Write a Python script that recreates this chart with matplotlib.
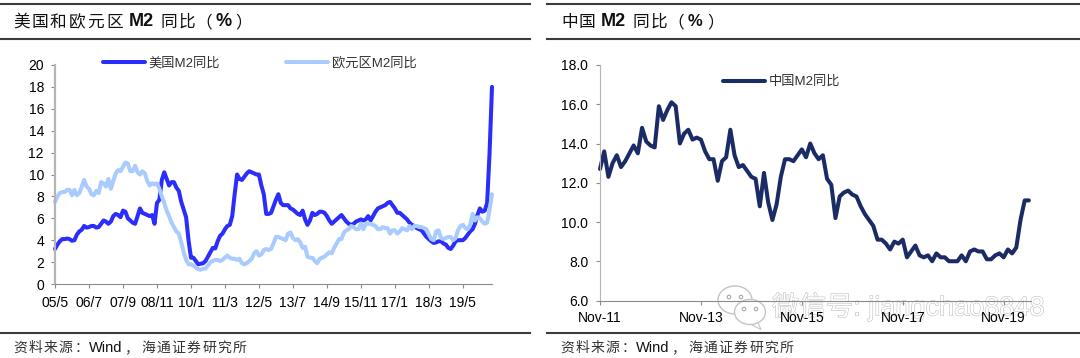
import matplotlib
matplotlib.use('Agg')
import numpy as np
import matplotlib.pyplot as plt
from matplotlib.patches import Ellipse, Polygon
from matplotlib.transforms import Affine2D
import matplotlib.patheffects as pe

plt.rcParams['font.family'] = ['Liberation Sans', 'Noto Sans CJK SC']

us_m2 = [3.2, 3.6, 3.9, 4.1, 4.1, 4.15, 4.1, 3.95, 4.0, 4.5, 4.8, 4.95, 5.3, 5.15, 5.2, 5.3, 5.3, 5.15, 5.2, 5.5,
         5.8, 5.7, 5.5, 5.7, 6.2, 6.4, 6.3, 6.1, 6.7, 6.6, 6.0, 5.8, 5.6, 5.5, 6.2, 6.9, 6.5, 6.4, 6.3, 6.2,
         6.3, 5.5, 7.4, 7.7, 9.5, 10.2, 9.6, 9.0, 9.3, 9.3, 8.8, 8.5, 7.5, 6.8, 6.1, 4.0, 2.4, 2.4, 2.1, 1.8,
         1.85, 1.9, 2.1, 2.5, 2.9, 3.3, 3.25, 3.9, 4.4, 4.6, 5.0, 5.3, 5.4, 6.2, 8.2, 10.0, 9.6, 9.5, 9.8, 10.1,
         10.3, 10.2, 10.1, 10.0, 10.0, 9.0, 8.2, 6.4, 6.4, 6.5, 7.1, 7.7, 8.2, 7.4, 7.2, 7.2, 7.2, 6.9, 6.8, 6.6,
         6.4, 6.3, 6.7, 5.9, 5.4, 5.8, 6.5, 6.3, 6.4, 6.6, 6.6, 6.5, 6.2, 5.8, 5.5, 5.7, 5.9, 6.1, 6.3, 6.0,
         5.7, 5.5, 5.4, 5.5, 5.7, 5.8, 5.9, 5.8, 5.9, 6.2, 5.8, 6.2, 6.6, 6.9, 7.0, 7.1, 7.2, 7.4, 7.5, 7.2,
         6.9, 6.5, 6.5, 6.3, 6.1, 5.9, 5.6, 5.4, 5.3, 5.1, 5.0, 4.9, 4.6, 4.3, 4.1, 3.9, 3.75, 3.8, 3.9, 3.9,
         3.7, 3.6, 3.3, 3.2, 3.5, 3.9, 4.0, 4.0, 4.0, 4.2, 4.5, 4.8, 5.0, 5.5, 6.3, 6.9, 6.6, 6.7, 7.4, 12.0,
         18.0]
eu_m2 = [7.5, 8.0, 8.3, 8.4, 8.4, 8.6, 8.6, 8.1, 8.6, 8.1, 8.3, 8.9, 9.5, 8.9, 8.7, 8.2, 8.1, 8.5, 8.3, 9.3,
         9.2, 8.9, 9.6, 8.7, 9.4, 10.1, 10.4, 10.3, 10.7, 11.1, 11.0, 10.3, 10.3, 10.8, 10.2, 10.0, 10.3, 10.1, 9.4, 9.0,
         9.2, 9.1, 9.2, 8.7, 8.0, 7.4, 6.7, 6.2, 5.6, 5.2, 4.8, 4.6, 3.8, 2.9, 2.2, 1.8, 1.8, 1.7, 1.5, 1.35,
         1.3, 1.4, 1.4, 1.7, 2.0, 2.1, 2.2, 2.2, 2.1, 2.2, 2.4, 2.6, 2.4, 2.3, 2.3, 2.2, 2.3, 1.9, 1.8, 1.9,
         2.1, 2.3, 2.8, 3.0, 2.6, 2.7, 3.1, 3.2, 3.1, 3.2, 3.7, 4.3, 4.3, 4.2, 4.1, 4.0, 4.6, 4.7, 4.2, 4.0,
         4.1, 3.8, 3.3, 3.4, 2.5, 2.4, 2.4, 2.1, 1.9, 2.3, 2.4, 2.5, 2.7, 2.9, 2.8, 3.3, 3.7, 4.1, 4.1, 4.7,
         4.9, 5.0, 5.3, 5.2, 5.0, 5.0, 5.5, 5.0, 5.5, 5.5, 5.5, 5.4, 5.3, 5.0, 5.0, 5.2, 5.1, 5.1, 4.6, 4.9,
         4.9, 4.6, 4.8, 5.1, 5.0, 4.9, 5.3, 5.0, 5.3, 5.3, 5.2, 5.2, 5.1, 5.0, 4.5, 4.1, 4.0, 4.8, 4.9, 4.2,
         4.1, 4.2, 4.3, 4.3, 4.0, 4.2, 4.9, 5.3, 5.4, 5.1, 5.0, 5.4, 6.4, 5.8, 6.1, 6.0, 5.7, 5.5, 5.6, 6.8,
         8.2]
cn_m2 = [12.7, 13.6, 12.3, 13.0, 13.4, 12.8, 13.1, 13.5, 13.9, 13.5, 14.8, 14.1, 13.9, 13.8, 15.9, 15.2, 15.7, 16.1, 15.9, 14.0,
         14.5, 14.7, 14.2, 14.3, 14.2, 13.6, 13.2, 13.2, 12.1, 13.1, 13.3, 14.7, 13.4, 12.8, 12.9, 12.6, 12.3, 12.2, 10.8, 12.5,
         11.0, 10.1, 10.9, 12.3, 13.2, 13.2, 13.1, 13.4, 13.7, 13.3, 14.0, 13.5, 13.2, 13.4, 12.2, 11.9, 10.2, 11.3, 11.5, 11.6,
         11.4, 11.3, 10.8, 10.4, 10.1, 9.8, 9.1, 9.1, 8.9, 8.6, 9.0, 8.9, 9.1, 8.2, 8.5, 8.8, 8.3, 8.2, 8.3, 8.0,
         8.4, 8.2, 8.2, 8.0, 8.0, 8.0, 8.3, 8.0, 8.5, 8.6, 8.5, 8.5, 8.1, 8.1, 8.3, 8.4, 8.2, 8.6, 8.4, 8.7,
         10.1, 11.1, 11.1]

us_xlabels = ['05/5', '06/7', '07/9', '08/11', '10/1', '11/3', '12/5', '13/7', '14/9', '15/11', '17/1', '18/3', '19/5']
cn_xlabels = ['Nov-11', 'Nov-13', 'Nov-15', 'Nov-17', 'Nov-19']

W, H = 1080, 358
fig = plt.figure(figsize=(W / 100, H / 100), dpi=100)
# pixel coordinates, origin top left like the reference
px = Affine2D().scale(1, -1).translate(0, H)


def make_axes(x0, x1, ytop, ybot, xpad, ypad):
    ax = fig.add_axes([x0 / W, 1 - ybot / H, (x1 - x0) / W, (ybot - ytop) / H])
    ax.spines['top'].set_visible(False)
    ax.spines['right'].set_visible(False)
    ax.spines['left'].set_color('#b5b5b5')
    ax.spines['bottom'].set_color('#8c8c8c')
    ax.tick_params(axis='both', direction='out', length=3, width=0.8, color='#8c8c8c', labelsize=10)
    ax.tick_params(axis='x', pad=xpad)
    ax.tick_params(axis='y', pad=ypad)
    ax.patch.set_alpha(0)
    return ax


ax1 = make_axes(55, 492, 65, 284, 5.6, 5)
ax1.spines['left'].set_linewidth(1.6)
ax1.plot(np.arange(len(us_m2)), us_m2, color='#2a2dfb', lw=2.9, solid_joinstyle='round', solid_capstyle='round', clip_on=False, label='美国M2同比')
ax1.plot(np.arange(len(eu_m2)), eu_m2, color='#a9cbff', lw=2.9, solid_joinstyle='round', solid_capstyle='round', clip_on=False, label='欧元区M2同比')
ax1.set_xlim(0, 180)
ax1.set_ylim(0, 20)
ax1.set_yticks(range(0, 21, 2))
ax1.set_xticks(range(0, 169, 14))
ax1.set_xticklabels(us_xlabels)
ax1.legend(loc='upper left', bbox_to_anchor=(48 / 437, 1.037), ncol=2, frameon=False, fontsize=9.5, handlelength=3.2,
           handletextpad=0.25, columnspacing=5.0, borderaxespad=0, borderpad=0, labelcolor='#333333')

ax2 = make_axes(600, 1031, 65, 300.5, 4.4, 5.5)
ax2.plot(np.arange(len(cn_m2)), cn_m2, color='#1b2b66', lw=2.9, solid_joinstyle='round', solid_capstyle='round', clip_on=False, label='中国M2同比')
ax2.set_xlim(0, 102.5)
ax2.set_ylim(6, 18)
ax2.set_yticks(np.arange(6, 18.1, 2))
ax2.set_yticklabels(['%.1f' % v for v in np.arange(6, 18.1, 2)])
ax2.set_xticks(range(0, 97, 24))
ax2.set_xticklabels(cn_xlabels)
ax2.legend(loc='upper left', bbox_to_anchor=(123 / 431, 0.954), frameon=False, fontsize=9.5, handlelength=3.2,
           handletextpad=0.25, borderaxespad=0, borderpad=0, labelcolor='#333333')


def put(x, y, s, **kw):
    fig.text(x, y, s, transform=px, va='center', ha='left', **kw)


def rule(x0, x1, y):
    fig.add_artist(plt.Line2D([x0, x1], [y, y], transform=px, color='#3c3c3c', lw=1.5))


# headers
for x, s in zip([13, 32, 50, 69, 87, 106], '美国和欧元区'):
    put(x, 22, s, fontsize=12, color='#111111')
put(129, 22, 'M2', fontsize=13, fontweight='bold', color='#111111')
for x, s in [(160, '同'), (179, '比'), (195, '（'), (235, '）')]:
    put(x, 22, s, fontsize=12, color='#111111')
put(215, 22, '%', fontsize=13, fontweight='bold', color='#111111')

for x, s in [(561, '中'), (579, '国'), (633, '同'), (651, '比'), (667, '（'), (707, '）')]:
    put(x, 22, s, fontsize=12, color='#111111')
put(601, 22, 'M2', fontsize=13, fontweight='bold', color='#111111')
put(688, 22, '%', fontsize=12, fontweight='bold', color='#111111')

# source notes
for off in [0, 547]:
    for i, s in enumerate('资料来源：'):
        put(13 + off + i * 15.3, 348, s, fontsize=10, color='#333333')
    put(89 + off, 348, 'Wind', fontsize=10.5, color='#111111')
    put(124 + off, 348, '，', fontsize=10, color='#333333')
    for i, s in enumerate('海通证券研究所'):
        put(141 + off + i * 15.3, 348, s, fontsize=10, color='#333333')

rule(0, 530, 4)
rule(0, 530, 39)
rule(0, 530, 333)
rule(547, 1080, 4)
rule(547, 1080, 39)
rule(547, 1080, 333)

# watermark on the right chart, kept under the axes so the tick labels stay readable
for cx, cy, w, h in [(735, 300, 34, 28), (750, 312, 31, 25)]:
    fig.add_artist(Polygon([(cx - 3, cy + h / 2 - 2), (cx + 8, cy + h / 2 - 2), (cx + 11, cy + h / 2 + 5)], transform=px,
                           facecolor='white', edgecolor='#c4c4c4', lw=0.8, zorder=-2))
    fig.add_artist(Ellipse((cx, cy), w, h, transform=px, facecolor='white', edgecolor='#c4c4c4', lw=1.0, zorder=-2))
    for dx in [-6, 6]:
        fig.add_artist(Ellipse((cx + dx, cy - 3), 3.5, 3.5, transform=px, facecolor='white', edgecolor='#a8a8a8', lw=0.8, zorder=-2))
wm = fig.text(772, 307, '微信号: jiangchao8848', transform=px, va='center', ha='left', fontsize=19.5, color='white', zorder=-2)
wm.set_path_effects([pe.withStroke(linewidth=0.8, foreground='#c0c0c0')])

fig.savefig('out.png', dpi=100)
